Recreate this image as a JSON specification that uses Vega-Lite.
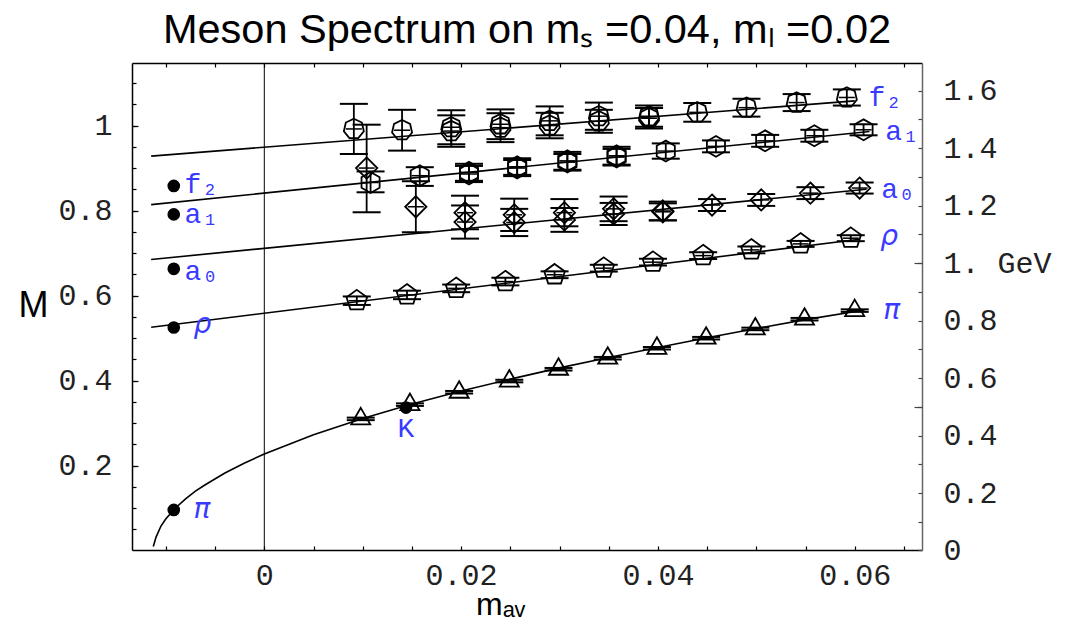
{
  "$schema": "https://vega.github.io/schema/vega-lite/v6.json",
  "width": 790,
  "height": 487,
  "autosize": {"type": "none"},
  "padding": {"left": 132, "top": 63, "right": 162, "bottom": 78},
  "background": "white",
  "title": {
    "text": "Meson Spectrum on mₛ =0.04, mₗ =0.02",
    "font": "Liberation Sans Narrow, Liberation Sans, Arial",
    "fontSize": 41.5,
    "fontWeight": "normal",
    "color": "black",
    "anchor": "middle",
    "baseline": "alphabetic",
    "offset": 20,
    "dy": 42
  },
  "config": {
    "view": {"stroke": null},
    "axis": {
      "labelFont": "Liberation Mono",
      "labelFontSize": 30,
      "labelColor": "#222",
      "grid": false,
      "domainColor": "black",
      "domainWidth": 1.5,
      "tickColor": "black",
      "tickWidth": 1.2,
      "labelOverlap": false,
      "labelFlush": false,
      "titleFont": "Liberation Sans",
      "titleFontWeight": "normal",
      "titleColor": "black"
    }
  },
  "datasets": {
    "pts": [
      {"s": "f2", "x": 0.0091, "y": 0.992, "lo": 0.933, "hi": 1.051},
      {"s": "f2", "x": 0.0140, "y": 0.989, "lo": 0.941, "hi": 1.037},
      {"s": "f2", "x": 0.0190, "y": 0.996, "lo": 0.956, "hi": 1.036},
      {"s": "f2", "x": 0.0190, "y": 0.987, "lo": 0.950, "hi": 1.024},
      {"s": "f2", "x": 0.0240, "y": 1.003, "lo": 0.968, "hi": 1.038},
      {"s": "f2", "x": 0.0240, "y": 0.995, "lo": 0.961, "hi": 1.029},
      {"s": "f2", "x": 0.0290, "y": 1.011, "lo": 0.977, "hi": 1.045},
      {"s": "f2", "x": 0.0290, "y": 1.000, "lo": 0.970, "hi": 1.030},
      {"s": "f2", "x": 0.0340, "y": 1.022, "lo": 0.990, "hi": 1.054},
      {"s": "f2", "x": 0.0340, "y": 1.010, "lo": 0.983, "hi": 1.037},
      {"s": "f2", "x": 0.0391, "y": 1.022, "lo": 0.997, "hi": 1.047},
      {"s": "f2", "x": 0.0391, "y": 1.017, "lo": 0.993, "hi": 1.041},
      {"s": "f2", "x": 0.0440, "y": 1.031, "lo": 1.009, "hi": 1.053},
      {"s": "f2", "x": 0.0490, "y": 1.042, "lo": 1.021, "hi": 1.063},
      {"s": "f2", "x": 0.0541, "y": 1.054, "lo": 1.034, "hi": 1.074},
      {"s": "f2", "x": 0.0592, "y": 1.066, "lo": 1.047, "hi": 1.085},
      {"s": "a1", "x": 0.0108, "y": 0.866, "lo": 0.843, "hi": 0.892},
      {"s": "a1", "x": 0.0158, "y": 0.882, "lo": 0.858, "hi": 0.902},
      {"s": "a1", "x": 0.0208, "y": 0.890, "lo": 0.870, "hi": 0.910},
      {"s": "a1", "x": 0.0208, "y": 0.886, "lo": 0.867, "hi": 0.905},
      {"s": "a1", "x": 0.0257, "y": 0.903, "lo": 0.884, "hi": 0.923},
      {"s": "a1", "x": 0.0257, "y": 0.900, "lo": 0.881, "hi": 0.919},
      {"s": "a1", "x": 0.0308, "y": 0.917, "lo": 0.896, "hi": 0.938},
      {"s": "a1", "x": 0.0308, "y": 0.914, "lo": 0.894, "hi": 0.933},
      {"s": "a1", "x": 0.0358, "y": 0.929, "lo": 0.908, "hi": 0.950},
      {"s": "a1", "x": 0.0358, "y": 0.926, "lo": 0.906, "hi": 0.945},
      {"s": "a1", "x": 0.0408, "y": 0.940, "lo": 0.922, "hi": 0.958},
      {"s": "a1", "x": 0.0459, "y": 0.951, "lo": 0.937, "hi": 0.965},
      {"s": "a1", "x": 0.0509, "y": 0.964, "lo": 0.950, "hi": 0.978},
      {"s": "a1", "x": 0.0559, "y": 0.976, "lo": 0.962, "hi": 0.990},
      {"s": "a1", "x": 0.0609, "y": 0.990, "lo": 0.977, "hi": 1.003},
      {"s": "a0", "x": 0.0104, "y": 0.900, "lo": 0.796, "hi": 1.002},
      {"s": "a0", "x": 0.0154, "y": 0.809, "lo": 0.749, "hi": 0.869},
      {"s": "a0", "x": 0.0204, "y": 0.795, "lo": 0.756, "hi": 0.835},
      {"s": "a0", "x": 0.0204, "y": 0.773, "lo": 0.734, "hi": 0.812},
      {"s": "a0", "x": 0.0254, "y": 0.790, "lo": 0.752, "hi": 0.828},
      {"s": "a0", "x": 0.0254, "y": 0.772, "lo": 0.740, "hi": 0.804},
      {"s": "a0", "x": 0.0305, "y": 0.795, "lo": 0.763, "hi": 0.827},
      {"s": "a0", "x": 0.0305, "y": 0.778, "lo": 0.750, "hi": 0.806},
      {"s": "a0", "x": 0.0355, "y": 0.804, "lo": 0.775, "hi": 0.833},
      {"s": "a0", "x": 0.0355, "y": 0.792, "lo": 0.766, "hi": 0.818},
      {"s": "a0", "x": 0.0405, "y": 0.799, "lo": 0.777, "hi": 0.821},
      {"s": "a0", "x": 0.0405, "y": 0.797, "lo": 0.777, "hi": 0.817},
      {"s": "a0", "x": 0.0455, "y": 0.813, "lo": 0.799, "hi": 0.827},
      {"s": "a0", "x": 0.0505, "y": 0.825, "lo": 0.811, "hi": 0.839},
      {"s": "a0", "x": 0.0555, "y": 0.841, "lo": 0.827, "hi": 0.855},
      {"s": "a0", "x": 0.0605, "y": 0.853, "lo": 0.840, "hi": 0.866},
      {"s": "rho", "x": 0.0094, "y": 0.588, "lo": 0.578, "hi": 0.598},
      {"s": "rho", "x": 0.0145, "y": 0.6016, "lo": 0.5916, "hi": 0.6116},
      {"s": "rho", "x": 0.0195, "y": 0.617, "lo": 0.608, "hi": 0.626},
      {"s": "rho", "x": 0.0245, "y": 0.633, "lo": 0.624, "hi": 0.642},
      {"s": "rho", "x": 0.0295, "y": 0.649, "lo": 0.641, "hi": 0.657},
      {"s": "rho", "x": 0.0345, "y": 0.6645, "lo": 0.6565, "hi": 0.6725},
      {"s": "rho", "x": 0.0395, "y": 0.6786, "lo": 0.6706, "hi": 0.6866},
      {"s": "rho", "x": 0.0446, "y": 0.694, "lo": 0.686, "hi": 0.702},
      {"s": "rho", "x": 0.0495, "y": 0.7075, "lo": 0.6995, "hi": 0.7155},
      {"s": "rho", "x": 0.0545, "y": 0.7216, "lo": 0.7146, "hi": 0.7286},
      {"s": "rho", "x": 0.0596, "y": 0.735, "lo": 0.728, "hi": 0.742},
      {"s": "pi", "x": 0.0098, "y": 0.310, "lo": 0.307, "hi": 0.313},
      {"s": "pi", "x": 0.0148, "y": 0.3435, "lo": 0.3405, "hi": 0.3465},
      {"s": "pi", "x": 0.0198, "y": 0.3727, "lo": 0.3697, "hi": 0.3757},
      {"s": "pi", "x": 0.0249, "y": 0.399, "lo": 0.396, "hi": 0.402},
      {"s": "pi", "x": 0.0299, "y": 0.4268, "lo": 0.4238, "hi": 0.4298},
      {"s": "pi", "x": 0.0349, "y": 0.4527, "lo": 0.4497, "hi": 0.4557},
      {"s": "pi", "x": 0.0399, "y": 0.476, "lo": 0.473, "hi": 0.479},
      {"s": "pi", "x": 0.0449, "y": 0.4998, "lo": 0.4968, "hi": 0.5028},
      {"s": "pi", "x": 0.0499, "y": 0.5216, "lo": 0.5186, "hi": 0.5246},
      {"s": "pi", "x": 0.0549, "y": 0.5445, "lo": 0.5415, "hi": 0.5475},
      {"s": "pi", "x": 0.0600, "y": 0.5647, "lo": 0.5617, "hi": 0.5677}
    ],
    "fits": [
      {"s": "f2", "x": -0.0115, "y": 0.928},
      {"s": "f2", "x": 0.0600, "y": 1.058},
      {"s": "a1", "x": -0.0115, "y": 0.814},
      {"s": "a1", "x": 0.0615, "y": 0.986},
      {"s": "a0", "x": -0.0115, "y": 0.685},
      {"s": "a0", "x": 0.0612, "y": 0.850},
      {"s": "rho", "x": -0.0115, "y": 0.5255},
      {"s": "rho", "x": 0.0605, "y": 0.7325},
      {"s": "pi", "x": -0.01128, "y": 0.010},
      {"s": "pi", "x": -0.0110, "y": 0.032},
      {"s": "pi", "x": -0.0105, "y": 0.058},
      {"s": "pi", "x": -0.0100, "y": 0.075},
      {"s": "pi", "x": -0.0090, "y": 0.101},
      {"s": "pi", "x": -0.0080, "y": 0.122},
      {"s": "pi", "x": -0.0070, "y": 0.140},
      {"s": "pi", "x": -0.0060, "y": 0.155},
      {"s": "pi", "x": -0.0040, "y": 0.1826},
      {"s": "pi", "x": -0.0020, "y": 0.2063},
      {"s": "pi", "x": 0.0, "y": 0.2275},
      {"s": "pi", "x": 0.005, "y": 0.2725},
      {"s": "pi", "x": 0.010, "y": 0.311},
      {"s": "pi", "x": 0.015, "y": 0.345},
      {"s": "pi", "x": 0.020, "y": 0.3755},
      {"s": "pi", "x": 0.025, "y": 0.4035},
      {"s": "pi", "x": 0.030, "y": 0.430},
      {"s": "pi", "x": 0.035, "y": 0.4545},
      {"s": "pi", "x": 0.040, "y": 0.478},
      {"s": "pi", "x": 0.045, "y": 0.501},
      {"s": "pi", "x": 0.050, "y": 0.5225},
      {"s": "pi", "x": 0.055, "y": 0.5435},
      {"s": "pi", "x": 0.061, "y": 0.566}
    ],
    "dots": [
      {"n": "f2", "x": -0.0092, "y": 0.858},
      {"n": "a1", "x": -0.0092, "y": 0.791},
      {"n": "a0", "x": -0.0092, "y": 0.663},
      {"n": "rho", "x": -0.0092, "y": 0.525},
      {"n": "pi", "x": -0.0092, "y": 0.0958},
      {"n": "K", "x": 0.0144, "y": 0.3365}
    ],
    "monolabs": [
      {"t": "f₂", "x": -0.0081, "y": 0.841},
      {"t": "a₁", "x": -0.0081, "y": 0.770},
      {"t": "a₀", "x": -0.0081, "y": 0.637},
      {"t": "f₂", "x": 0.0614, "y": 1.045},
      {"t": "a₁", "x": 0.0631, "y": 0.966},
      {"t": "a₀", "x": 0.0627, "y": 0.829}
    ],
    "greeklabs": [
      {"t": "ρ", "x": -0.0072, "y": 0.5115},
      {"t": "π", "x": -0.0072, "y": 0.0762},
      {"t": "ρ", "x": 0.0626, "y": 0.719},
      {"t": "π", "x": 0.0629, "y": 0.5445}
    ],
    "klabs": [
      {"t": "K", "x": 0.0144, "y": 0.268}
    ]
  },
  "layer": [
    {
      "data": {"values": [{"z": 0}]},
      "mark": {"type": "rule", "color": "black", "strokeWidth": 1},
      "encoding": {
        "x": {
          "field": "z", "type": "quantitative",
          "scale": {"domain": [-0.013445, 0.066839], "nice": false, "zero": false},
          "axis": {
            "orient": "bottom",
            "values": [-0.01, -0.005, 0, 0.005, 0.01, 0.015, 0.02, 0.025, 0.03, 0.035, 0.04, 0.045, 0.05, 0.055, 0.06, 0.065],
            "labelExpr": "datum.value == 0 ? '0' : (indexof(['0.020','0.040','0.060'], format(datum.value, '.3f')) >= 0 ? format(datum.value, '.2f') : '')",
            "tickSize": -4,
            "labelPadding": 14,
            "title": "mₐᵥ",
            "titleFontSize": 32,
            "titleX": 368,
            "titleY": 64,
            "titleAlign": "center",
            "titleBaseline": "alphabetic"
          }
        }
      }
    },
    {
      "data": {"values": [{"z": 0}]},
      "mark": {"type": "rule", "opacity": 0},
      "encoding": {
        "x": {
          "field": "z", "type": "quantitative",
          "scale": {"domain": [-0.013445, 0.066839], "nice": false, "zero": false},
          "axis": {
            "orient": "top",
            "values": [-0.01, -0.005, 0, 0.005, 0.01, 0.015, 0.02, 0.025, 0.03, 0.035, 0.04, 0.045, 0.05, 0.055, 0.06, 0.065],
            "labels": false,
            "tickSize": -4,
            "title": null
          }
        }
      }
    },
    {
      "data": {"values": [{"g": 0.5}]},
      "mark": {"type": "rule", "opacity": 0},
      "encoding": {
        "y": {
          "field": "g", "type": "quantitative",
          "scale": {"domain": [0.0016, 1.1471], "nice": false, "zero": false},
          "axis": {
            "orient": "right",
            "values": [0.0016, 0.06762, 0.13525, 0.20287, 0.27049, 0.33811, 0.40574, 0.47336, 0.54098, 0.6086, 0.67622, 0.74385, 0.81147, 0.87909, 0.94672, 1.01434, 1.08196],
            "labelExpr": "round(datum.value * 14.788) == 0 ? '0' : (round(datum.value * 14.788) == 10 ? '1. GeV' : (round(datum.value * 14.788) % 2 == 0 ? format(round(datum.value * 14.788) / 10, '.1f') : ''))",
            "tickSize": -4,
            "labelPadding": 25,
            "labelAlign": "left",
            "domainColor": "#666",
            "tickColor": "#444",
            "title": null
          }
        }
      }
    },
    {
      "data": {"values": [{"g": 0.5}]},
      "mark": {"type": "rule", "opacity": 0},
      "encoding": {
        "y": {
          "field": "g", "type": "quantitative",
          "scale": {"domain": [0.0016, 1.1471], "nice": false, "zero": false},
          "axis": {
            "orient": "right",
            "values": [0.33811, 0.67622],
            "labels": false,
            "domain": false,
            "tickSize": -8,
            "tickColor": "#444",
            "title": null
          }
        }
      }
    },
    {
      "data": {"values": [{"g": 0.5}]},
      "mark": {"type": "rule", "opacity": 0},
      "encoding": {
        "y": {
          "field": "g", "type": "quantitative",
          "scale": {"domain": [0.0016, 1.1471], "nice": false, "zero": false},
          "axis": {
            "orient": "left",
            "values": [0.2, 0.4, 0.6, 0.8, 1.0],
            "labels": false,
            "domain": false,
            "tickSize": -6,
            "title": null
          }
        }
      }
    },
    {
      "data": {"name": "fits"},
      "mark": {"type": "line", "color": "black", "strokeWidth": 1.6},
      "encoding": {
        "x": {"field": "x", "type": "quantitative", "scale": {"domain": [-0.013445, 0.066839], "nice": false, "zero": false}, "axis": null},
        "y": {
          "field": "y", "type": "quantitative",
          "scale": {"domain": [0.0016, 1.1471], "nice": false, "zero": false},
          "axis": {
            "orient": "left",
            "values": [0.05, 0.1, 0.15, 0.2, 0.25, 0.3, 0.35, 0.4, 0.45, 0.5, 0.55, 0.6, 0.65, 0.7, 0.75, 0.8, 0.85, 0.9, 0.95, 1.0, 1.05, 1.1],
            "labelExpr": "format(datum.value, '.2f') == '1.00' ? '1' : (indexof(['0.20','0.40','0.60','0.80'], format(datum.value, '.2f')) >= 0 ? format(datum.value, '.1f') : '')",
            "tickSize": -4,
            "labelPadding": 24,
            "title": "M",
            "titleFontSize": 36,
            "titleAngle": 0,
            "titleX": -99,
            "titleY": 242,
            "titleAlign": "center",
            "titleBaseline": "middle"
          }
        },
        "detail": {"field": "s", "type": "nominal"},
        "order": {"field": "x", "type": "quantitative"}
      }
    },
    {
      "data": {"name": "pts"},
      "mark": {"type": "rule", "color": "black", "strokeWidth": 1.8},
      "encoding": {
        "x": {"field": "x", "type": "quantitative", "scale": {"domain": [-0.013445, 0.066839], "nice": false, "zero": false}, "axis": null},
        "y": {"field": "lo", "type": "quantitative", "scale": {"domain": [0.0016, 1.1471], "nice": false, "zero": false}, "axis": null},
        "y2": {"field": "hi"}
      }
    },
    {
      "data": {"name": "pts"},
      "mark": {"type": "tick", "orient": "horizontal", "color": "black", "size": 28, "thickness": 2, "opacity": 1},
      "encoding": {
        "x": {"field": "x", "type": "quantitative", "scale": {"domain": [-0.013445, 0.066839], "nice": false, "zero": false}, "axis": null},
        "y": {"field": "lo", "type": "quantitative", "scale": {"domain": [0.0016, 1.1471], "nice": false, "zero": false}, "axis": null}
      }
    },
    {
      "data": {"name": "pts"},
      "mark": {"type": "tick", "orient": "horizontal", "color": "black", "size": 28, "thickness": 2, "opacity": 1},
      "encoding": {
        "x": {"field": "x", "type": "quantitative", "scale": {"domain": [-0.013445, 0.066839], "nice": false, "zero": false}, "axis": null},
        "y": {"field": "hi", "type": "quantitative", "scale": {"domain": [0.0016, 1.1471], "nice": false, "zero": false}, "axis": null}
      }
    },
    {
      "data": {"name": "pts"},
      "mark": {"type": "tick", "orient": "horizontal", "color": "black", "size": 16, "thickness": 1.5, "opacity": 1},
      "encoding": {
        "x": {"field": "x", "type": "quantitative", "scale": {"domain": [-0.013445, 0.066839], "nice": false, "zero": false}, "axis": null},
        "y": {"field": "y", "type": "quantitative", "scale": {"domain": [0.0016, 1.1471], "nice": false, "zero": false}, "axis": null}
      }
    },
    {
      "data": {"name": "pts"},
      "mark": {"type": "point", "filled": false, "stroke": "black", "strokeWidth": 1.8, "opacity": 1},
      "encoding": {
        "x": {"field": "x", "type": "quantitative", "scale": {"domain": [-0.013445, 0.066839], "nice": false, "zero": false}, "axis": null},
        "y": {"field": "y", "type": "quantitative", "scale": {"domain": [0.0016, 1.1471], "nice": false, "zero": false}, "axis": null},
        "shape": {
          "field": "s", "type": "nominal", "legend": null,
          "scale": {
            "domain": ["f2", "a1", "a0", "rho", "pi"],
            "range": [
              "M0,-1L0.782,-0.623L0.975,0.223L0.434,0.901L-0.434,0.901L-0.975,0.223L-0.782,-0.623Z",
              "M0,-1L0.866,-0.5L0.866,0.5L0,1L-0.866,0.5L-0.866,-0.5Z",
              "M0,-1L1,0L0,1L-1,0Z",
              "M0,-1L0.951,-0.309L0.588,0.809L-0.588,0.809L-0.951,-0.309Z",
              "M0,-1L0.866,0.5L-0.866,0.5Z"
            ]
          }
        },
        "size": {
          "field": "s", "type": "ordinal", "legend": null,
          "scale": {"domain": ["f2", "a1", "a0", "rho", "pi"], "range": [420, 484, 511, 475, 500]}
        }
      }
    },
    {
      "data": {"name": "dots"},
      "mark": {"type": "circle", "color": "black", "size": 160, "opacity": 1},
      "encoding": {
        "x": {"field": "x", "type": "quantitative", "scale": {"domain": [-0.013445, 0.066839], "nice": false, "zero": false}, "axis": null},
        "y": {"field": "y", "type": "quantitative", "scale": {"domain": [0.0016, 1.1471], "nice": false, "zero": false}, "axis": null}
      }
    },
    {
      "data": {"name": "monolabs"},
      "mark": {"type": "text", "font": "Liberation Mono", "fontSize": 28, "color": "#3a3aff", "align": "left", "baseline": "alphabetic"},
      "encoding": {
        "x": {"field": "x", "type": "quantitative", "scale": {"domain": [-0.013445, 0.066839], "nice": false, "zero": false}, "axis": null},
        "y": {"field": "y", "type": "quantitative", "scale": {"domain": [0.0016, 1.1471], "nice": false, "zero": false}, "axis": null},
        "text": {"field": "t"}
      }
    },
    {
      "data": {"name": "greeklabs"},
      "mark": {"type": "text", "font": "DejaVu Sans", "fontSize": 28, "fontStyle": "italic", "color": "#3a3aff", "align": "left", "baseline": "alphabetic"},
      "encoding": {
        "x": {"field": "x", "type": "quantitative", "scale": {"domain": [-0.013445, 0.066839], "nice": false, "zero": false}, "axis": null},
        "y": {"field": "y", "type": "quantitative", "scale": {"domain": [0.0016, 1.1471], "nice": false, "zero": false}, "axis": null},
        "text": {"field": "t"}
      }
    },
    {
      "data": {"name": "klabs"},
      "mark": {"type": "text", "font": "Liberation Mono", "fontSize": 28, "color": "#3a3aff", "align": "center", "baseline": "alphabetic"},
      "encoding": {
        "x": {"field": "x", "type": "quantitative", "scale": {"domain": [-0.013445, 0.066839], "nice": false, "zero": false}, "axis": null},
        "y": {"field": "y", "type": "quantitative", "scale": {"domain": [0.0016, 1.1471], "nice": false, "zero": false}, "axis": null},
        "text": {"field": "t"}
      }
    }
  ],
  "resolve": {"axis": {"x": "independent", "y": "independent"}}
}
